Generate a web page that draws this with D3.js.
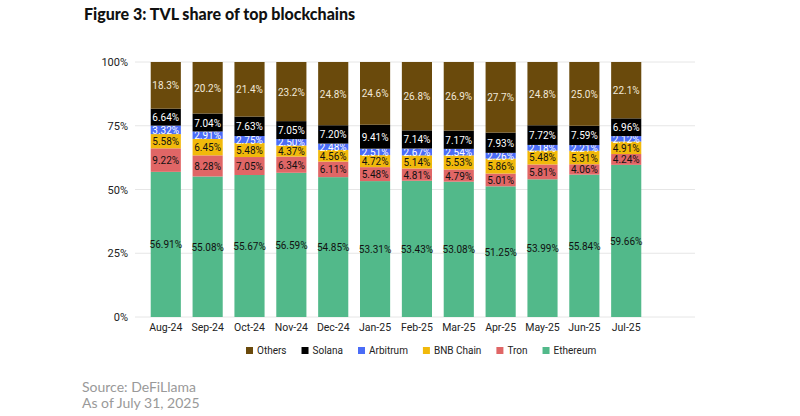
<!DOCTYPE html><html><head><meta charset="utf-8"><script src="https://cdn.jsdelivr.net/npm/d3@7"></script>
<style>body{margin:0;background:#fff}svg{font-family:Roboto,sans-serif}</style></head><body><svg id="c" width="800" height="416"></svg>
<script>
const months=["Aug-24","Sep-24","Oct-24","Nov-24","Dec-24","Jan-25","Feb-25","Mar-25","Apr-25","May-25","Jun-25","Jul-25"];
const ethereum=[56.91,55.08,55.67,56.59,54.85,53.31,53.43,53.08,51.25,53.99,55.84,59.66];
const tron=[9.22,8.28,7.05,6.34,6.11,5.48,4.81,4.79,5.01,5.81,4.06,4.24];
const bnb=[5.58,6.45,5.48,4.37,4.56,4.72,5.14,5.53,5.86,5.48,5.31,4.91];
const arbitrum=[3.32,2.91,2.75,2.50,2.48,2.51,2.67,2.54,2.26,2.18,2.21,2.12];
const solana=[6.64,7.04,7.63,7.05,7.20,9.41,7.14,7.17,7.93,7.72,7.59,6.96];
const others=[18.3,20.2,21.4,23.2,24.8,24.6,26.8,26.9,27.7,24.8,25.0,22.1];
const yTicks=[0,25,50,75,100];
const series=[
 {name:"Ethereum",vals:ethereum,color:"#52b98a",txt:"#111"},
 {name:"Tron",vals:tron,color:"#e06666",txt:"#111"},
 {name:"BNB Chain",vals:bnb,color:"#f1b90b",txt:"#111"},
 {name:"Arbitrum",vals:arbitrum,color:"#4a6cf7",txt:"#fff"},
 {name:"Solana",vals:solana,color:"#000",txt:"#fff"},
 {name:"Others",vals:others,color:"#6a4a0c",txt:"#f1e8d8"}];
const rows=months.map((m,i)=>{const r={m};series.forEach(s=>r[s.name]=s.vals[i]);return r;});
const stack=d3.stack().keys(series.map(s=>s.name)).offset(d3.stackOffsetExpand)(rows);
const svg=d3.select("#c");
svg.append("text").attr("x",84).attr("y",20).attr("font-family","Lato, sans-serif").attr("font-weight",900).attr("font-size",16).attr("fill","#111").text("Figure 3: TVL share of top blockchains");
const x=d3.scaleBand().domain(months).range([139,653]).padding(0.28);
const y=d3.scaleLinear().domain([0,1]).range([317,62]);
const g=svg.append("g");
g.selectAll("line.g").data(yTicks).join("line").attr("x1",135).attr("x2",695).attr("y1",d=>y(d/100)).attr("y2",d=>y(d/100)).attr("stroke","#e6e6e6");
g.selectAll("text.t").data(yTicks).join("text").attr("x",128).attr("y",d=>y(d/100)+4).attr("text-anchor","end").attr("font-size",11).attr("fill","#222").text(d=>d+"%");
stack.forEach((layer,k)=>{const s=series[k];
 g.selectAll(null).data(layer).join("rect").attr("x",d=>x(d.data.m)).attr("width",x.bandwidth()).attr("y",d=>y(d[1])).attr("height",d=>y(d[0])-y(d[1])).attr("fill",s.color);
 g.selectAll(null).data(layer).join("text").attr("x",d=>x(d.data.m)+x.bandwidth()/2).attr("y",d=>(y(d[0])+y(d[1]))/2+4).attr("text-anchor","middle").attr("font-size",10).attr("fill",s.txt)
  .text((d,i)=>s.name==="Others"?s.vals[i].toFixed(1)+"%":s.vals[i].toFixed(2)+"%");
});
g.selectAll("text.x").data(months).join("text").attr("x",d=>x(d)+x.bandwidth()/2).attr("y",331).attr("text-anchor","middle").attr("font-size",10.5).attr("fill","#222").text(d=>d);
const leg=[...series].reverse();
const lg=svg.append("g");let lx=246;
leg.forEach(s=>{lg.append("rect").attr("x",lx).attr("y",347).attr("width",7).attr("height",7).attr("fill",s.color);
 const t=lg.append("text").attr("x",lx+11).attr("y",354).attr("font-size",10).attr("fill","#222").text(s.name);
 lx+=11+t.node().getComputedTextLength()+15;});
svg.append("text").attr("x",82).attr("y",392).attr("font-family","Lato, sans-serif").attr("font-size",14).attr("fill","#999").text("Source: DeFiLlama");
svg.append("text").attr("x",82).attr("y",408).attr("font-family","Lato, sans-serif").attr("font-size",14).attr("fill","#999").text("As of July 31, 2025");
</script></body></html>
